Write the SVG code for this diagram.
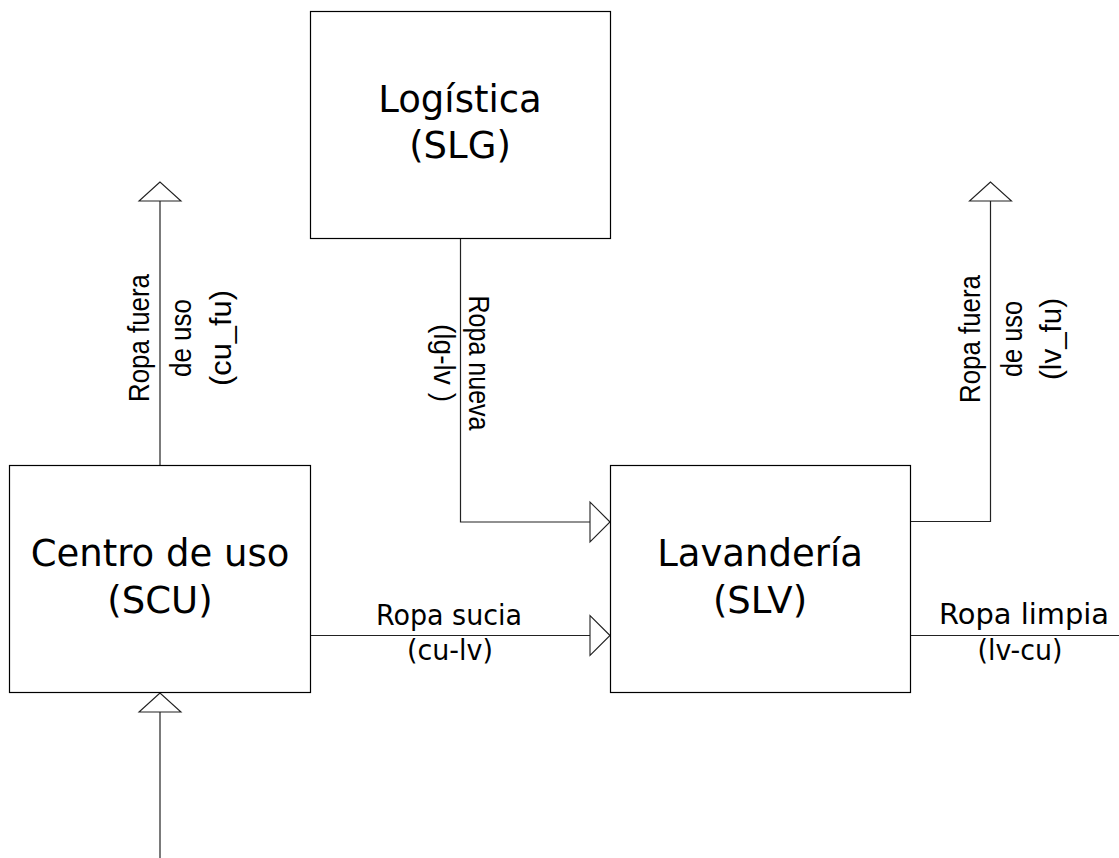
<svg xmlns="http://www.w3.org/2000/svg" width="1119" height="858" viewBox="0 0 1119 858">
<style>
.box{fill:#fff;stroke:#000;stroke-width:1.2}
.node-t{font-family:"DejaVu Sans","Liberation Sans",sans-serif;font-size:37px;fill:#000;text-anchor:middle}
.edge-t{font-family:"DejaVu Sans","Liberation Sans",sans-serif;font-size:27.5px;fill:#000;text-anchor:middle}
.rot-t{font-family:"Liberation Sans",Arial,sans-serif;font-size:29px;fill:#000;text-anchor:middle}
.ln{fill:none;stroke:#222;stroke-width:1.2}
.ah{fill:#fff;stroke:#222;stroke-width:1.1}
</style>
<rect width="1119" height="858" fill="#fff"/>
<g id="connectors">
  <line class="ln" x1="160" y1="465" x2="160" y2="201"/>
  <polygon class="ah" points="160,182 139,201 181,201"/>
  <line class="ln" x1="160" y1="858" x2="160" y2="712"/>
  <polygon class="ah" points="160,693 139,712 181,712"/>
  <polyline class="ln" points="460.5,238 460.5,522 590,522"/>
  <polygon class="ah" points="610,522 590,502 590,542"/>
  <line class="ln" x1="310" y1="635.5" x2="590" y2="635.5"/>
  <polygon class="ah" points="610,635.5 590,615.5 590,655.5"/>
  <polyline class="ln" points="911,521.5 990.5,521.5 990.5,201"/>
  <polygon class="ah" points="990.5,182 969.5,201 1011.5,201"/>
  <line class="ln" x1="911" y1="635.5" x2="1119" y2="635.5"/>
  <text class="rot-t" transform="translate(149,338) rotate(-90)"><tspan x="0" y="0" textLength="128" lengthAdjust="spacingAndGlyphs">Ropa fuera</tspan><tspan x="0" y="42" textLength="78" lengthAdjust="spacingAndGlyphs">de uso</tspan><tspan x="0" y="82" textLength="96" lengthAdjust="spacingAndGlyphs">(cu_fu)</tspan></text>
  <text class="rot-t" transform="translate(980,339) rotate(-90)"><tspan x="0" y="0" textLength="128" lengthAdjust="spacingAndGlyphs">Ropa fuera</tspan><tspan x="0" y="42" textLength="76" lengthAdjust="spacingAndGlyphs">de uso</tspan><tspan x="0" y="81" textLength="82" lengthAdjust="spacingAndGlyphs">(lv_fu)</tspan></text>
  <text class="rot-t" transform="translate(469,363) rotate(90)"><tspan x="0" y="0" textLength="135" lengthAdjust="spacingAndGlyphs">Ropa nueva</tspan><tspan x="0" y="35" textLength="78" lengthAdjust="spacingAndGlyphs">(lg-lv )</tspan></text>
  <text class="edge-t" x="449" y="625" textLength="146" lengthAdjust="spacingAndGlyphs">Ropa sucia</text>
  <text class="edge-t" x="450" y="660" textLength="86" lengthAdjust="spacingAndGlyphs">(cu-lv)</text>
  <text class="edge-t" x="1024" y="624" textLength="170" lengthAdjust="spacingAndGlyphs">Ropa limpia</text>
  <text class="edge-t" x="1020" y="660" textLength="85" lengthAdjust="spacingAndGlyphs">(lv-cu)</text>
</g>
<g id="node-slg">
  <rect class="box" x="310.5" y="11.5" width="300" height="227"/>
  <text class="node-t" x="460" y="112">Logística</text>
  <text class="node-t" x="460" y="158">(SLG)</text>
</g>
<g id="node-scu">
  <rect class="box" x="9.5" y="465.5" width="301" height="227"/>
  <text class="node-t" x="160" y="566">Centro de uso</text>
  <text class="node-t" x="160" y="613">(SCU)</text>
</g>
<g id="node-slv">
  <rect class="box" x="610.5" y="465.5" width="300" height="227"/>
  <text class="node-t" x="760" y="566">Lavandería</text>
  <text class="node-t" x="760" y="613">(SLV)</text>
</g>
</svg>
